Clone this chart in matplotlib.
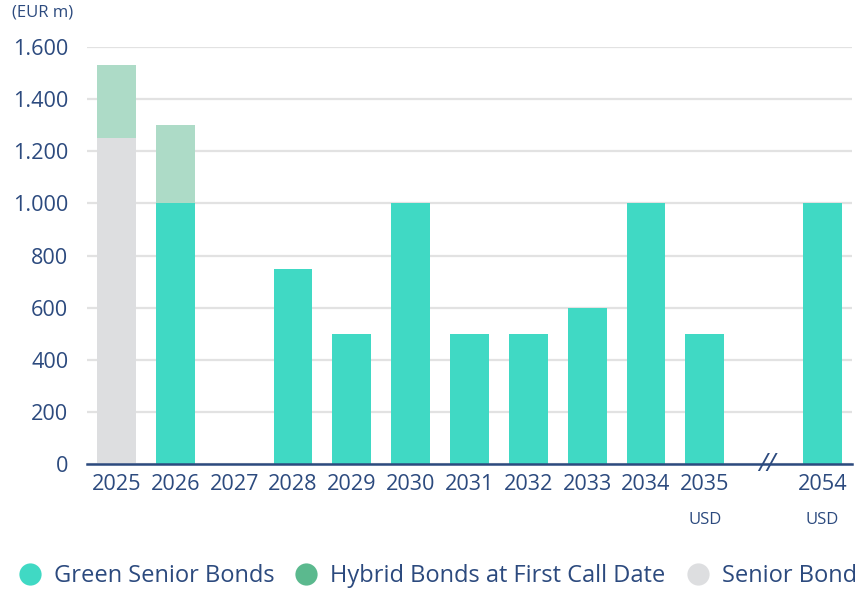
import matplotlib
matplotlib.use("Agg")
import matplotlib.pyplot as plt
from matplotlib.lines import Line2D
import numpy as np

plt.rcParams['font.family'] = ['Open Sans', 'DejaVu Sans']

# Maturity profile (EUR m)
years = ["2025", "2026", "2027", "2028", "2029", "2030", "2031", "2032",
         "2033", "2034", "2035", "", "2054"]
currency_note = ["", "", "", "", "", "", "", "", "", "", "USD", "", "USD"]
senior = [1250, 0, 0, 0, 0, 0, 0, 0, 0, 0, 0, 0, 0]
green_senior = [0, 1000, 0, 750, 500, 1000, 500, 500, 600, 1000, 500, 0, 1000]
hybrid = [280, 300, 0, 0, 0, 0, 0, 0, 0, 0, 0, 0, 0]
y_ticks = [0, 200, 400, 600, 800, 1000, 1200, 1400, 1600]

GREEN = "#40D9C4"
HYBRID_BAR = "#ADDBC7"
HYBRID_KEY = "#5BB98E"
GREY = "#DDDEE0"
NAVY = "#2C4A7E"
GRID = "#E2E2E2"

fig = plt.figure(figsize=(8.55, 5.89), dpi=100)
ax = fig.add_axes([0.1018, 0.2122, 0.8947, 0.708])

x = np.arange(len(years))
w = 0.66
senior_a = np.array(senior)
green_a = np.array(green_senior)
hybrid_a = np.array(hybrid)

ax.bar(x, senior_a, width=w, color=GREY, zorder=3, clip_on=False)
ax.bar(x, green_a, width=w, bottom=senior_a, color=GREEN, zorder=3, clip_on=False)
ax.bar(x, hybrid_a, width=w, bottom=senior_a + green_a, color=HYBRID_BAR,
       zorder=3, clip_on=False)

ax.set_xlim(-0.5, 12.5)
ax.set_ylim(0, 1600)
ax.set_yticks(y_ticks)
ax.set_yticklabels([f"{v:,}".replace(",", ".") for v in y_ticks])
ax.set_xticks(x)
ax.set_xticklabels(years)

ax.tick_params(axis='both', length=0, colors=NAVY, labelsize=15.6)
ax.tick_params(axis='y', pad=13.5)
ax.tick_params(axis='x', pad=7.5)
for lbl in ax.get_xticklabels() + ax.get_yticklabels():
    lbl.set_color(NAVY)

ax.yaxis.grid(True, color=GRID, linewidth=1.6, zorder=0)
ax.set_axisbelow(True)
for s in ["top", "right", "left"]:
    ax.spines[s].set_visible(False)
ax.spines["bottom"].set_color(NAVY)
ax.spines["bottom"].set_linewidth(1.8)
ax.spines["bottom"].set_zorder(4)

# currency notes under the year labels
for xi, note in zip(x, currency_note):
    if note:
        ax.annotate(note, xy=(xi, 0), xycoords=('data', 'axes fraction'),
                    xytext=(0, -40), textcoords='offset points',
                    ha='center', va='center', fontsize=12, color=NAVY)

# axis break marker
ax.annotate("//", xy=(11.05, 0), xycoords=('data', 'axes fraction'),
            ha='center', va='center', fontsize=18, color=NAVY,
            fontstyle='italic', zorder=5)

fig.text(0.014, 0.978, "(EUR m)", ha='left', va='center', fontsize=12, color=NAVY)

handles = [
    Line2D([], [], marker='o', linestyle='none', markersize=16,
           markerfacecolor=GREEN, markeredgecolor='none'),
    Line2D([], [], marker='o', linestyle='none', markersize=16,
           markerfacecolor=HYBRID_KEY, markeredgecolor='none'),
    Line2D([], [], marker='o', linestyle='none', markersize=16,
           markerfacecolor=GREY, markeredgecolor='none'),
]
labels = ["Green Senior Bonds", "Hybrid Bonds at First Call Date", "Senior Bonds"]
leg = fig.legend(handles, labels, loc='center left', bbox_to_anchor=(0.01, 0.022),
                 ncol=3, frameon=False, fontsize=17, handlelength=1.0,
                 handletextpad=0.52, columnspacing=0.85, borderaxespad=0.0)
for t in leg.get_texts():
    t.set_color(NAVY)

fig.savefig("out.png", dpi=100)
